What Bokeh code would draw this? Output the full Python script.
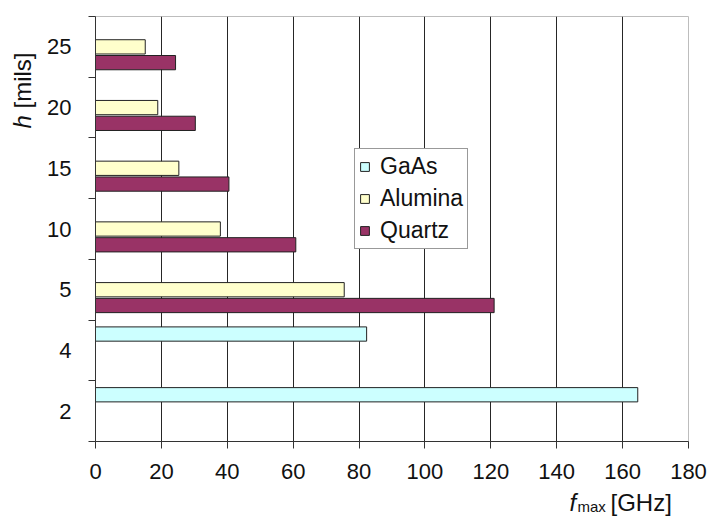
import math
from bokeh.plotting import figure
from bokeh.layouts import row, column
from bokeh.models import Range1d, FixedTicker, Legend, LegendItem, Label
from bokeh.embed import file_html
from bokeh.resources import INLINE

# ---- data ----
h_labels = ["2", "4", "5", "10", "15", "20", "25"]
x_ticks = [0, 20, 40, 60, 80, 100, 120, 140, 160, 180]
gaas_h = ["2", "4"]
gaas_f = [164.6, 82.3]
alumina_h = ["5", "10", "15", "20", "25"]
alumina_f = [75.5, 37.9, 25.3, 18.9, 15.1]
quartz_h = ["5", "10", "15", "20", "25"]
quartz_f = [121.0, 60.8, 40.5, 30.3, 24.3]

FONT = "Liberation Sans"
TXT = "#111111"
cat_pos = {lab: i + 0.5 for i, lab in enumerate(h_labels)}

p = figure(width=663, height=488, output_backend="svg", toolbar_location=None,
           x_range=Range1d(0, 180), y_range=Range1d(0, len(h_labels)),
           min_border_left=49, min_border_right=19, min_border_top=16, min_border_bottom=47)
p.background_fill_color = "white"
p.border_fill_color = "white"
p.outline_line_color = "#bdbdbd"

# grid
p.xgrid.ticker = FixedTicker(ticks=x_ticks[1:-1])
p.xgrid.grid_line_color = "#262626"
p.xgrid.grid_line_width = 1
p.ygrid.visible = False

# x axis
xa = p.xaxis[0]
xa.ticker = FixedTicker(ticks=x_ticks)
xa.axis_line_color = "#333333"
xa.major_tick_line_color = "#333333"
xa.major_tick_out = 7
xa.major_tick_in = 0
xa.minor_tick_line_color = None
xa.major_label_text_font = FONT
xa.major_label_text_font_size = "22px"
xa.major_label_text_color = TXT
xa.major_label_standoff = 15

# y axis
ya = p.yaxis[0]
ya.ticker = FixedTicker(ticks=[cat_pos[l] for l in h_labels],
                        minor_ticks=list(range(len(h_labels) + 1)))
ya.major_label_overrides = {cat_pos[l]: l for l in h_labels}
ya.axis_line_color = "#333333"
ya.major_tick_out = 0
ya.major_tick_in = 0
ya.minor_tick_out = 7
ya.minor_tick_in = 0
ya.minor_tick_line_color = "#333333"
ya.major_label_text_font = FONT
ya.major_label_text_font_size = "22px"
ya.major_label_text_color = TXT
ya.major_label_standoff = 17

# bars
BH = 0.235
r_g = p.hbar(y=[cat_pos[h] + 0.27 for h in gaas_h], right=gaas_f, left=0, height=BH,
             fill_color="#CCFFFF", line_color="#222222", line_width=1)
r_a = p.hbar(y=[cat_pos[h] for h in alumina_h], right=alumina_f, left=0, height=BH,
             fill_color="#FFFFCC", line_color="#222222", line_width=1)
r_q = p.hbar(y=[cat_pos[h] - 0.26 for h in quartz_h], right=quartz_f, left=0, height=BH,
             fill_color="#993366", line_color="#222222", line_width=1)

legend = Legend(items=[LegendItem(label="GaAs", renderers=[r_g]),
                       LegendItem(label="Alumina", renderers=[r_a]),
                       LegendItem(label="Quartz", renderers=[r_q])],
                location=(259, 192), margin=0, padding=4, spacing=5,
                glyph_width=11, glyph_height=11, label_standoff=10, label_height=22,
                label_text_font=FONT, label_text_font_size="23px", label_text_color=TXT,
                border_line_color="#333333", border_line_width=1,
                background_fill_color="white", background_fill_alpha=1)
p.add_layout(legend, "center")


def blank(w, h):
    f = figure(width=w, height=h, output_backend="svg", toolbar_location=None,
               x_range=Range1d(0, 1), y_range=Range1d(0, 1),
               x_axis_location=None, y_axis_location=None,
               min_border=0, min_border_left=0, min_border_right=0,
               min_border_top=0, min_border_bottom=0)
    f.grid.visible = False
    f.outline_line_color = None
    f.background_fill_color = "white"
    f.border_fill_color = "white"
    return f


# y-axis title (left strip)
left = blank(44, 517)
left.add_layout(Label(x=22, y=389, x_units="screen", y_units="screen", text="h",
                      angle=math.pi / 2, text_align="left", text_baseline="middle",
                      text_font=FONT, text_font_style="italic", text_font_size="24px",
                      text_color=TXT))
left.add_layout(Label(x=22, y=409, x_units="screen", y_units="screen", text="[mils]",
                      angle=math.pi / 2, text_align="left", text_baseline="middle",
                      text_font=FONT, text_font_size="24px", text_color=TXT))

# x-axis title (bottom strip; frame aligned with the chart frame)
bottom = blank(663, 29)
bottom.add_layout(Label(x=474, y=15, x_units="screen", y_units="screen", text="f",
                        text_align="left", text_baseline="middle",
                        text_font=FONT, text_font_style="italic", text_font_size="24px",
                        text_color=TXT))
bottom.add_layout(Label(x=482, y=11, x_units="screen", y_units="screen", text="max",
                        text_align="left", text_baseline="middle",
                        text_font=FONT, text_font_size="15px", text_color=TXT))
bottom.add_layout(Label(x=515, y=15, x_units="screen", y_units="screen", text="[GHz]",
                        text_align="left", text_baseline="middle",
                        text_font=FONT, text_font_size="24px", text_color=TXT))

layout = row(left, column(p, bottom, spacing=0), spacing=0)
open("out.html", "w").write(file_html(layout, INLINE))
